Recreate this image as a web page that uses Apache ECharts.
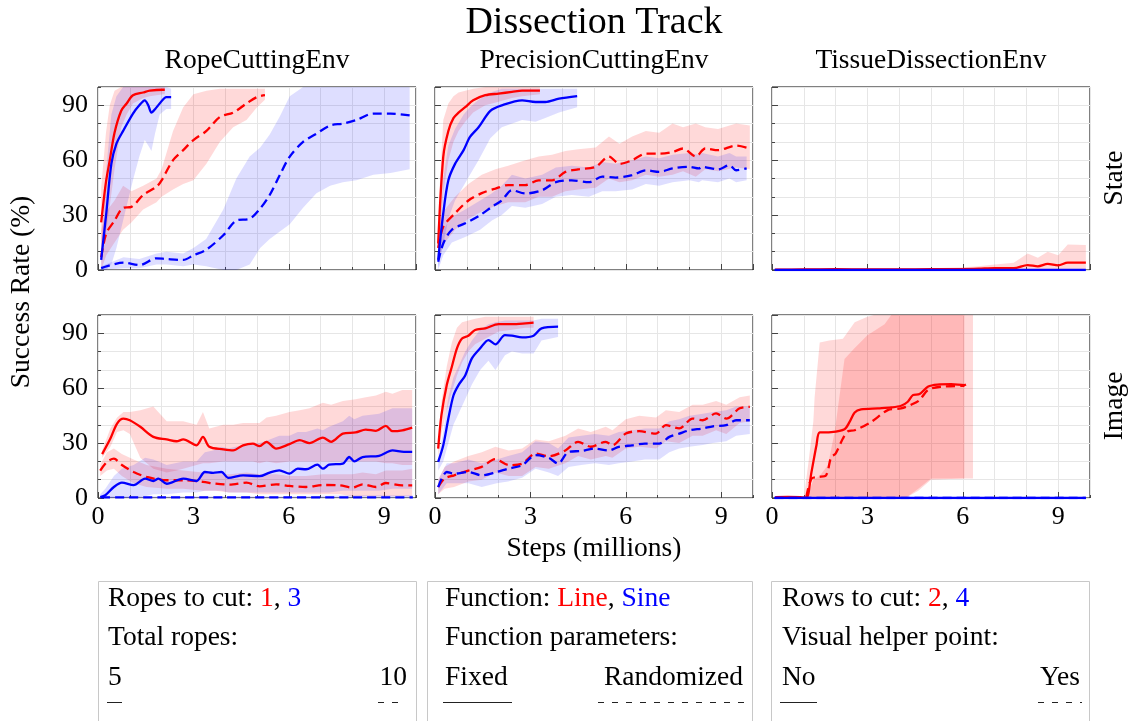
<!DOCTYPE html>
<html><head><meta charset="utf-8">
<script src="https://cdn.jsdelivr.net/npm/echarts@6/dist/echarts.min.js"></script>
<style>html,body{margin:0;padding:0;background:#fff}#c{width:1130px;height:721px}</style>
</head><body><div id="c"></div>
<script>
// ---------- tick labels / categories ----------
const xTickValues = [0, 3, 6, 9];
const yTickValues = [0, 30, 60, 90];
const columnTitles = ['RopeCuttingEnv', 'PrecisionCuttingEnv', 'TissueDissectionEnv'];
const rowTitles = ['State', 'Image'];

// ---------- data: [steps (M), mean %, lower %, upper %] ----------
// State / RopeCuttingEnv
const sr_red_solid = [[0.1,26,5,45],[0.25,48,20,75],[0.37,60,35,90],[0.52,75,55,98],[0.73,87,78,100],[0.9,91,85,100],[1.1,95.5,91,100],[1.42,97,94,100],[1.63,98,95,100],[2.05,98.5,96,100],[2.1,98.5,96,100]];
const sr_blue_solid = [[0.1,5.5,0,12],[0.26,31,0,55],[0.42,58,3,85],[0.58,69,12,95],[0.79,76,27,100],[1.1,85.5,49,100],[1.3,90,62,100],[1.47,92.7,71,100],[1.58,90,68,100],[1.68,86,65,100],[1.8,88,75,100],[1.94,91,85,100],[2.15,94.5,88,100],[2.3,94.5,88,99]];
const sr_red_dash = [[0.1,7,0,22],[0.26,20,8,32],[0.52,27,15,38],[0.79,34,22,46],[1.05,34.5,26,43],[1.42,41,33,46],[1.84,45.5,37,50],[2.0,49,40,55],[2.36,60,44,76],[2.68,65.5,47,89],[3.0,71,49,96],[3.41,76,58,98],[3.83,83.6,70,99],[4.25,86,78,99],[4.67,91,82,99],[5.0,94.5,89,99],[5.25,95.5,93,99]];
const sr_blue_dash = [[0.1,1,0,2],[0.8,4,1,7],[1.3,2.7,1,6],[1.84,6.4,3,9],[2.15,6,3,10],[2.68,5.5,2,9],[3.0,8,3,12],[3.4,11,2,17],[3.94,19,0,33],[4.35,27,0,50],[4.77,28,3,62],[5.1,33.6,12,67],[5.4,41,17,74],[5.72,52,21,84],[6.03,62,25,95],[6.45,70,34,100],[6.87,74.5,42,100],[7.3,79,46,100],[7.7,80,48,100],[8.13,82,49,100],[8.66,85.5,52,100],[9.2,85.5,53,100],[9.8,84.5,55,100]];
// State / PrecisionCuttingEnv
const sp_red_solid = [[0.1,14.5,5,30],[0.26,62,42,82],[0.42,76,60,91],[0.58,83,70,95],[0.74,86,76,97],[0.95,89,81,98],[1.2,92.7,86,99],[1.58,95.5,90,100],[2.0,96.4,92,100],[2.42,97.3,94,100],[2.74,98,95,100],[3.3,98,96,100]];
const sp_blue_solid = [[0.1,5.5,1,10],[0.26,31,14,50],[0.42,49,28,68],[0.63,58,38,77],[0.9,65.5,46,85],[1.1,72.7,52,89],[1.37,78,60,93],[1.74,87,72,97],[2.1,90,78,99],[2.74,92.7,82,99],[3.16,91.8,81,99],[3.47,91.8,83,99],[3.9,93.6,86,99],[4.47,95,89,99]];
const sp_red_dash = [[0.1,12,4,22],[0.26,23.6,14,32],[0.63,31,22,40],[1.05,38,28,47],[1.47,42,32,52],[1.9,44.5,35,55],[2.3,46.4,37,57],[2.84,46.4,37,60],[3.26,49,40,62],[3.68,49,40,63],[4.1,53.6,43,65],[4.5,55,44,66],[5.05,56.4,45,67],[5.47,62,50,73],[5.8,58,48,69],[6.2,60,49,73],[6.63,63.6,52,76],[7.05,63.6,51,75],[7.47,64.5,52,80],[7.8,66.4,54,78],[8.2,62,51,80],[8.5,66.4,55,78],[8.9,65.5,54,77],[9.47,68,56,80],[9.9,66.4,55,79]];
const sp_blue_dash = [[0.1,4.5,0,10],[0.26,14.5,8,22],[0.53,22,15,29],[0.95,25.5,18,33],[1.42,30,22,38],[1.79,34.5,27,42],[2.1,38,30,46],[2.42,43.6,35,52],[2.84,41.8,34,50],[3.37,43.6,36,52],[3.8,48,40,56],[4.3,49,41,57],[4.84,48,40,56],[5.26,51,43,59],[5.68,50.5,43,58],[6.2,51.8,44,60],[6.63,54.5,47,62],[7.05,53.6,46,61],[7.47,55.5,48,63],[8.0,56.4,49,64],[8.3,55.5,48,63],[8.4,56.4,49,64],[8.9,55,48,62],[9.26,57.3,50,64],[9.47,54.5,48,62],[9.8,55.5,49,62]];
// State / TissueDissectionEnv
const st_red_solid = [[0.1,0.2,0,0.8],[1,0.3,0,1],[2,0.4,0,1],[3,0.3,0,1],[4,0.3,0,1],[5,0.4,0,1],[6,0.5,0,1.5],[6.5,0.7,0,2],[7,1,0,3],[7.6,1,0,4],[8.04,2.7,0,9],[8.36,2,0,6.7],[8.67,3.3,0,10],[9.0,2.5,0,8],[9.3,4,0,14],[9.87,4,0,13.6]];
const st_blue_solid = [[0.08,0,0,0],[9.87,0,0,0]];
// Image / RopeCuttingEnv
const ir_red_solid = [[0.13,24,22,26],[0.39,32.5,28,38],[0.6,40.7,36,44],[0.8,43.4,37,47],[1.0,42.5,35,47],[1.33,38.9,22,48],[1.74,33.4,16,50],[2.16,32,14,42],[2.47,31,15,42],[2.68,32,16,42],[3.1,28.8,18,40],[3.3,33.4,19,47],[3.5,28,19,38],[3.94,26.6,20,40],[4.25,26,20,40],[4.56,28.8,20,41],[4.87,29.7,20,41],[5.08,28.3,19,41],[5.3,30.7,20,44],[5.6,27,19,45],[6.02,29.4,20,47],[6.34,31.6,20,48],[6.65,30,20,49],[7.07,33,20,52],[7.33,30.7,20,51],[7.7,35.2,20,53],[8.1,35.8,20,54],[8.42,37.4,20,55],[8.74,36.7,20,56],[9.05,39.4,19,58],[9.26,36.5,19,57],[9.57,37,18,59],[9.88,38.5,18,59]];
const ir_blue_solid = [[0.07,0.5,0,2],[0.23,1.5,0,5],[0.5,6,0,12],[0.75,8.4,0,16],[1.12,7,0,18],[1.48,10.6,1,22],[1.74,9.3,2,21],[1.9,10.6,2,20],[2.16,7.8,2,18],[2.68,10.6,3,20],[3.1,9.3,3,20],[3.36,14.2,4,25],[3.62,13.7,4,26],[3.88,14.2,4,28],[4.1,11,3,27],[4.56,12.4,3,29],[5.08,11.9,3,30],[5.4,13.9,3,32],[5.7,15.1,3,34],[6.02,13.3,3,34],[6.28,16,3,36],[6.54,15.7,3,36],[6.9,18.2,3,38],[7.07,16,3,37],[7.27,18.2,3,39],[7.7,18.8,4,42],[7.9,22.4,4,45],[8.06,20,4,43],[8.32,22.4,4,45],[8.84,23,4,46],[9.26,26,5,49],[9.62,25.2,5,49],[9.88,25.2,5,49]];
const ir_red_dash = [[0.07,15,12,18],[0.28,19.7,15,25],[0.5,21.5,16,27],[0.75,18,12,24],[1.12,14.2,8,21],[1.53,11.5,6,18],[2.16,9.7,5,16],[2.68,9.7,5,15],[3.3,8.8,4,14],[3.7,7.8,4,13],[4.14,7.3,3,13],[4.67,8.4,3,14],[5.08,6.4,2,13],[5.6,7.5,2,13],[6.02,6.6,2,12],[6.54,6,2,12],[7.07,7.1,2,13],[7.6,6.9,2,13],[8.0,5.7,1,13],[8.32,7.5,1,14],[8.74,6,1,13],[9.05,8.2,1,15],[9.57,6.9,1,15],[9.88,6.9,1,16]];
const ir_blue_dash = [[0.1,0.3,0,1],[2,0.3,0,1],[4,0.3,0,1],[6,0.3,0,1],[8,0.3,0,1.5],[9.9,0.3,0,1.5]];
// Image / PrecisionCuttingEnv
const ip_red_solid = [[0.1,27,22,30],[0.2,45,35,52],[0.37,61.7,48,72],[0.53,71.7,58,85],[0.69,81.8,67,93],[0.85,87.2,74,96],[1.05,88.7,80,97],[1.26,91.8,84,98],[1.58,92.7,87,99],[2.0,95,91,99],[2.42,95,92,99],[2.84,95.4,93,99],[3.1,95.8,93,99]];
const ip_blue_solid = [[0.1,19.7,15,22],[0.26,28.8,20,36],[0.42,43.4,30,55],[0.58,56,40,66],[0.74,61.7,46,72],[0.95,67,54,80],[1.16,76.3,62,86],[1.42,81.8,70,92],[1.68,86.3,75,95],[1.9,84,70,96],[2.2,89,78,97],[2.42,88.7,80,97],[2.74,87.8,79,97],[3.1,88.7,79,97],[3.35,92.7,86,98],[3.87,93.6,88,98]];
const ip_red_dash = [[0.1,6,2,10],[0.3,10.6,5,17],[0.6,12.4,6,20],[1.05,15,9,23],[1.47,17,10,25],[1.9,21.2,14,28],[2.32,18,12,26],[2.74,18.8,12,27],[3.16,24.3,17,32],[3.58,22.8,16,31],[4.1,26,19,34],[4.5,30.7,23,38],[4.9,28,21,36],[5.37,30.7,23,39],[5.58,28.8,22,37],[6.0,35.2,27,43],[6.42,36.5,28,45],[6.95,35.2,27,44],[7.26,39.8,31,48],[7.68,38,30,47],[8.1,43.4,34,51],[8.42,42.5,34,51],[8.84,46.2,37,53],[9.16,43.4,35,51],[9.58,49,41,55],[9.9,49.8,42,56]];
const ip_blue_dash = [[0.1,6,2,10],[0.37,14.2,8,19],[0.6,13.3,8,19],[1.05,14.2,8,21],[1.47,12.4,6,19],[1.94,14.2,8,21],[2.3,16,9,23],[2.74,17.9,11,25],[3.16,23.4,16,31],[3.58,21.9,14,30],[3.87,18.8,12,27],[4.2,25.2,17,33],[4.6,25.7,18,34],[5.03,27,19,35],[5.47,26,18,34],[5.78,27.9,19,36],[6.2,28.8,20,37],[6.6,29.7,21,38],[7.05,29.7,21,38],[7.37,33.4,25,42],[7.68,35.2,27,43],[8.0,37,28,45],[8.42,38,29,46],[8.74,39.2,30,47],[9.16,39.8,31,48],[9.47,42.5,34,50],[9.9,42.5,35,50]];
// Image / TissueDissectionEnv  (mean lines: [x, mean]; bands: [x, lower, upper])
const it_red_solid = [[0.1,0.5],[0.5,0.6],[0.9,0.5],[1.08,0],[1.24,14],[1.4,29],[1.5,35.8],[1.86,36],[2.28,37.6],[2.44,41.6],[2.6,46.7],[2.8,48.4],[3.33,49],[3.75,49.5],[4.06,50.4],[4.27,52.6],[4.43,56.2],[4.64,56.8],[4.9,60.8],[5.2,62],[5.63,62.2],[6.05,61.7],[6.1,62]];
const it_red_dash = [[1.08,0.5],[1.24,10.6],[1.45,11.5],[1.7,12.4],[1.86,22.4],[2.0,24.3],[2.23,32.5],[2.39,36.5],[2.6,37],[3.12,41.6],[3.64,48],[4.06,49],[4.38,51],[4.64,53.5],[4.9,59],[5.3,60.8],[6.05,61.3]];
const it_blue_solid = [[0.08,0],[9.87,0]];
const it_red_solid_band = [[1.0,0,0],[1.15,0,20],[1.3,0,42],[1.34,0,55],[1.5,0,85],[1.8,0,86],[2.23,0,87],[2.6,0,96],[3.0,0,99],[3.2,0,100],[4.2,0,100],[4.6,5,100],[5.0,10.6,100],[6.32,10.6,100]];
const it_red_dash_band = [[1.1,0,0],[1.3,0,10],[1.5,0,12],[1.76,0,18],[1.97,0,36],[2.28,0,76],[2.6,0,82],[3.0,0,89],[3.54,0,95],[3.75,0,100],[4.2,0,100],[4.6,4,100],[5.0,10,100],[6.05,10.6,100]];

// ---------- styling ----------
const FONT = '"Liberation Serif", "DejaVu Serif", serif';
const RED = '#ff0000', BLUE = '#0000ff';
const RED_BAND = 'rgba(255,0,0,0.15)', BLUE_BAND = 'rgba(0,0,255,0.13)';
const LEFTS = [98, 435, 772], TOPS = [87, 315], GW = 318, GH = 183;
const TS = 27.5; // text size

const panels = [
  {g:0, curves:[[sr_red_dash,RED,true],[sr_blue_dash,BLUE,true],[sr_red_solid,RED,false],[sr_blue_solid,BLUE,false]]},
  {g:1, curves:[[sp_red_dash,RED,true],[sp_blue_dash,BLUE,true],[sp_red_solid,RED,false],[sp_blue_solid,BLUE,false]]},
  {g:2, curves:[[st_red_solid,RED,false],[st_blue_solid,BLUE,false]]},
  {g:3, curves:[[ir_red_dash,RED,true],[ir_blue_dash,BLUE,true],[ir_red_solid,RED,false],[ir_blue_solid,BLUE,false]]},
  {g:4, curves:[[ip_red_dash,RED,true],[ip_blue_dash,BLUE,true],[ip_red_solid,RED,false],[ip_blue_solid,BLUE,false]]}
];

function lineSeries(g, pts, color, dashed) {
  return {type:'line', xAxisIndex:2*g, yAxisIndex:2*g, data:pts.map(p=>[p[0],p[1]]),
    showSymbol:false, symbol:'none', smooth:0.3, silent:true, animation:false, z:3,
    lineStyle:{color:color, width:2.3, type: dashed ? [9,5] : 'solid', cap:'butt'}, itemStyle:{color:color}};
}
function bandSeries(g, band, fill) {
  return {type:'custom', xAxisIndex:2*g, yAxisIndex:2*g, data:band, encode:{x:0, y:[1,2]},
    silent:true, animation:false, z:1, clip:true,
    renderItem: function(params, api) {
      if (params.dataIndex !== 0) return null;
      const up = [], lo = [];
      band.forEach(b => { up.push(api.coord([b[0], b[2]])); lo.push(api.coord([b[0], b[1]])); });
      return {type:'polygon', shape:{points: up.concat(lo.reverse())}, style:{fill:fill}};
    }};
}

const grid = [], xAxis = [], yAxis = [], series = [];
for (let g = 0; g < 6; g++) {
  const row = Math.floor(g/3), col = g % 3;
  grid.push({left:LEFTS[col], top:TOPS[row], width:GW, height:GH, show:true, borderColor:'#000', borderWidth:1, backgroundColor:'transparent'});
  const tickStyle = {color:'#444', width:1};
  xAxis.push({gridIndex:g, type:'value', min:0, max:10, interval:1, position:'bottom',
    axisLine:{show:false, onZero:false}, axisTick:{show:true, inside:true, length:3, lineStyle:tickStyle},
    axisLabel:{show:false}, splitLine:{show:true, lineStyle:{color:'#e6e6e6', width:1}}});
  xAxis.push({gridIndex:g, type:'value', min:0, max:10, interval:3, position:'bottom',
    axisLine:{show:false, onZero:false}, axisTick:{show:true, inside:true, length:6, lineStyle:tickStyle},
    axisLabel:{show: row === 1, showMaxLabel:false, margin:6, fontSize:26, fontFamily:FONT, color:'#000',
      formatter: v => xTickValues.indexOf(v) >= 0 ? String(v) : ''},
    splitLine:{show:false}});
  yAxis.push({gridIndex:g, type:'value', min:0, max:100, interval:10, position:'left',
    axisLine:{show:false, onZero:false}, axisTick:{show:true, inside:true, length:3, lineStyle:tickStyle},
    axisLabel:{show:false}, splitLine:{show:true, lineStyle:{color:'#e6e6e6', width:1}}});
  yAxis.push({gridIndex:g, type:'value', min:0, max:100, interval:30, position:'left',
    axisLine:{show:false, onZero:false}, axisTick:{show:true, inside:true, length:6, lineStyle:tickStyle},
    axisLabel:{show: col === 0, showMaxLabel:false, margin:10, fontSize:26, fontFamily:FONT, color:'#000',
      formatter: v => yTickValues.indexOf(v) >= 0 ? String(v) : ''},
    splitLine:{show:false}});
}

panels.forEach(p => {
  p.curves.forEach(c => series.push(bandSeries(p.g, c[0].filter(d => d.length > 3).map(d => [d[0], d[2], d[3]]), c[1] === RED ? RED_BAND : BLUE_BAND)));
  p.curves.forEach(c => series.push(lineSeries(p.g, c[0], c[1], c[2])));
});
// Image / TissueDissectionEnv
series.push(bandSeries(5, it_red_solid_band, RED_BAND));
series.push(bandSeries(5, it_red_dash_band, RED_BAND));
series.push(lineSeries(5, it_red_dash, RED, true));
series.push(lineSeries(5, it_red_solid, RED, false));
series.push(lineSeries(5, it_blue_solid, BLUE, true));
series.push(lineSeries(5, it_blue_solid, BLUE, false));

// ---------- text & legend boxes ----------
function txt(text, x, y, size, align, rot, rich) {
  const o = {type:'text', x:x, y:y, rotation: rot || 0, silent:true,
    style:{text:text, fontSize:size, fontFamily:FONT, fill:'#000', align:align || 'center', verticalAlign:'middle'}};
  if (rich) o.style.rich = rich;
  return o;
}
const richRB = {r:{fill:RED, fontSize:TS, fontFamily:FONT}, b:{fill:BLUE, fontSize:TS, fontFamily:FONT}};
function mark(x1, x2, y, dashed) {
  return {type:'line', silent:true, shape:{x1:x1, y1:y, x2:x2, y2:y},
    style:{stroke:'#222', lineWidth:1, lineDash: dashed ? [6,8] : null}};
}
function box(x, w) {
  return {type:'rect', silent:true, shape:{x:x, y:581.5, width:w, height:160}, style:{fill:null, stroke:'#c8c8c8', lineWidth:1}};
}
const graphic = [
  txt('Dissection Track', 594, 23, 38),
  txt(columnTitles[0], 257, 61, TS), txt(columnTitles[1], 594, 61, TS), txt(columnTitles[2], 931, 61, TS),
  txt('Success Rate (%)', 22, 292, TS, 'center', Math.PI/2),
  txt(rowTitles[0], 1115, 178, TS, 'center', Math.PI/2),
  txt(rowTitles[1], 1115, 406, TS, 'center', Math.PI/2),
  txt('Steps (millions)', 594, 549, TS),
  box(98.5, 318), box(427.5, 325), box(771.5, 318),
  txt('Ropes to cut: {r|1}, {b|3}', 108, 599, TS, 'left', 0, richRB),
  txt('Total ropes:', 108, 638, TS, 'left'),
  txt('5', 108, 678, TS, 'left'), txt('10', 407, 678, TS, 'right'),
  mark(107, 122, 702.5, false), mark(378, 404, 702.5, true),
  txt('Function: {r|Line}, {b|Sine}', 445, 599, TS, 'left', 0, richRB),
  txt('Function parameters:', 445, 638, TS, 'left'),
  txt('Fixed', 445, 678, TS, 'left'), txt('Randomized', 743, 678, TS, 'right'),
  mark(443, 512, 702.5, false), mark(598, 746, 702.5, true),
  txt('Rows to cut: {r|2}, {b|4}', 782, 599, TS, 'left', 0, richRB),
  txt('Visual helper point:', 782, 638, TS, 'left'),
  txt('No', 782, 678, TS, 'left'), txt('Yes', 1080, 678, TS, 'right'),
  mark(780, 817, 702.5, false), mark(1038, 1082, 702.5, true)
];

const chart = echarts.init(document.getElementById('c'), null, {renderer:'canvas'});
chart.setOption({animation:false, backgroundColor:'#fff', grid:grid, xAxis:xAxis, yAxis:yAxis, series:series, graphic:graphic});
</script></body></html>
